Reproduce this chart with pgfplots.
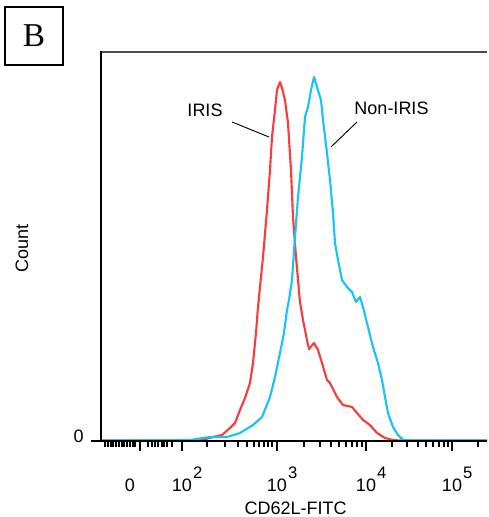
\documentclass[border=0pt]{standalone}
\usepackage{pgfplots}
\pgfplotsset{compat=1.18}
\usepackage{fontspec}
\setmainfont{Liberation Sans}
\newfontfamily\seriffont{Liberation Serif}
\definecolor{irisred}{RGB}{250,60,60}
\definecolor{noniris}{RGB}{25,195,245}
\newcommand{\sexp}[1]{10\rlap{\hspace{0.06em}\raisebox{0.72em}{\fontsize{12.5}{14}\selectfont #1}}}
\begin{document}
\begin{tikzpicture}
\begin{axis}[
  x=0.75pt, y=0.75pt,
  xmin=101, xmax=487, ymin=0, ymax=389,
  clip=false,
  axis line style={draw=none},
  tick align=outside,
  xtick pos=bottom, ytick pos=left,
  xtick={182,277,366,452},
  xticklabels={\sexp{2},\sexp{3},\sexp{4},\sexp{5}},
  minor xtick={105,108,111,113,116,119,122,124,127,130,133,135,148,152,155,158,162,164,167,172,
    207,225,238,247,254,259,264,268,272,
    304,320,331,339,346,352,357,362,
    392,407,418,426,433,439,444,448,
    478},
  extra x ticks={140},
  extra x tick labels={0},
  extra x tick style={tick style={line width=1.6pt}, xticklabel style={xshift=-7.5pt}},
  ytick={0}, yticklabels={0},
  major tick length=7.5pt, minor tick length=4.5pt,
  tick style={black, line width=0.9pt},
  xticklabel style={anchor=base, font=\fontsize{13.5}{16}\selectfont, yshift=-30.5pt},
  yticklabel style={anchor=east, font=\fontsize{13.5}{16}\selectfont, yshift=3.75pt, xshift=-2pt},
  xlabel={CD62L-FITC},
  xlabel style={at={(rel axis cs:0.504,-0.19)}, anchor=base, inner sep=0pt, font=\fontsize{13.5}{16}\selectfont},
  ylabel={Count},
  ylabel style={at={(rel axis cs:-0.2047,0.496)}, anchor=center, font=\fontsize{13.5}{16}\selectfont},
]
\path (axis cs:0,-76) rectangle (axis cs:487,441);
% IRIS (red)
\addplot[irisred, line width=1.6pt, line join=round] coordinates {
(101,0.5) (200,0.5) (213,4) (222,6) (230,13) (235,18) (240,31) (245,43) (250,58)
(253,78) (256,108) (258,134) (263,184) (267,231) (270,271) (272,304) (275,331)
(277,351) (280,359) (282,353) (285,341) (288,318) (291,271) (293,224) (296,184)
(300,139) (303,121) (307,101) (309,92) (314,98) (318,91) (322,78) (327,61)
(330,58) (337,44) (343,36) (352,34) (357,28) (363,21) (370,16) (377,8) (385,3)
(393,1) (400,0.5) (487,0.5)
};
% Non-IRIS (cyan)
\addplot[noniris, line width=1.6pt, line join=round] coordinates {
(101,0.5) (190,1) (210,4) (227,4) (240,8) (253,16) (262,24) (270,44) (275,64)
(280,88) (284,108) (287,131) (289,141) (292,161) (295,204) (298,244) (302,284)
(305,324) (308,334) (311,351) (314,364) (317,354) (321,341) (323,321) (327,288)
(330,261) (333,228) (335,198) (338,181) (342,161) (347,154) (352,149) (356,139)
(360,144) (363,134) (368,114) (373,94) (378,78) (382,61) (385,44) (388,28)
(393,14) (398,6) (403,1) (410,0.5) (487,0.5)
};
\draw[black!70, line width=1.5pt] (axis cs:101,389) -- (axis cs:487,389);
\draw[black, line width=1.5pt] (axis cs:101,389.5) -- (axis cs:101,0);
\draw[black, line width=1.1pt] (axis cs:101,0) -- (axis cs:487,0);
\node[font=\fontsize{13.5}{16}\selectfont] at (axis cs:205,331) {IRIS};
\node[font=\fontsize{13.5}{16}\selectfont] at (axis cs:391.5,333) {Non-IRIS};
\draw[line width=0.7pt] (axis cs:232,319) -- (axis cs:269,304);
\draw[line width=0.7pt] (axis cs:357,319) -- (axis cs:331,294);
\node[draw, line width=1.1pt, minimum width=43.5pt, minimum height=43.5pt, inner sep=0pt,
  font=\seriffont\fontsize{25}{30}\selectfont] at (axis cs:34,405) {B};
\end{axis}
\end{tikzpicture}
\end{document}
